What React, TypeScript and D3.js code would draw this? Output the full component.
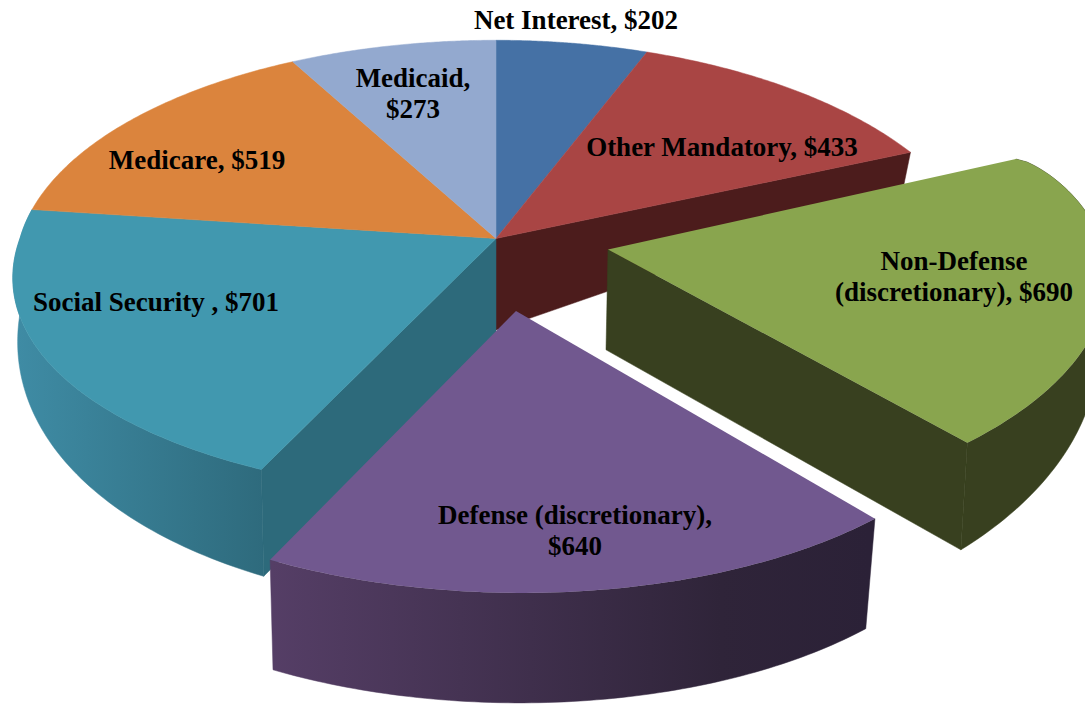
import React from "react";
import * as d3 from "d3";

const categories = ["Net Interest", "Other Mandatory", "Non-Defense (discretionary)", "Defense (discretionary)", "Social Security", "Medicare", "Medicaid"];
const values = [202, 433, 690, 640, 701, 519, 273];
const topColors = ["#4571a5", "#a94544", "#89a54e", "#71588f", "#4198af", "#db843d", "#93a9cf"];

const W = 1085, H = 704;
const cx = 496, cy = 238.5;
const bottomCy = 330;
const Ry = 224, py = 0.13;
const RRight = 482, pRight = 0.156, RLeft = 476, pLeftBack = 0.13, pLeftFront = 0.172;

type Place = { dx: number; dy: number; sx: number; sy: number; shear: number; tilt: number; dAdd: number; flat: number | null; shrink: number; bx: number; bulge: number };
const still: Place = { dx: 0, dy: 0, sx: 1, sy: 1, shear: 0, tilt: 0, dAdd: 0, flat: null, shrink: 0.982, bx: 0, bulge: 0 };
const places: Place[] = [
  still,
  still,
  { ...still, dx: 112, dy: 11, sx: 0.984, sy: 1.05, dAdd: 4, bulge: 22 },
  { ...still, dx: 20, dy: 72.5, sx: 1.005, sy: 1.095, shear: -0.04, tilt: 0.017, flat: 110, shrink: 0.98, bx: -2 },
  { ...still, dAdd: -6, shrink: 0.99 },
  still,
  still,
];

const labels = [
  { lines: ["Net Interest, $202"], x: 576, y: 29 },
  { lines: ["Other Mandatory, $433"], x: 722, y: 156 },
  { lines: ["Non-Defense", "(discretionary), $690"], x: 954, y: 270 },
  { lines: ["Defense (discretionary),", "$640"], x: 575, y: 524 },
  { lines: ["Social Security , $701"], x: 156, y: 311 },
  { lines: ["Medicare, $519"], x: 197, y: 169 },
  { lines: ["Medicaid,", "$273"], x: 413, y: 87 },
];

const pie = d3.pie<number>().sort(null).startAngle(0).endAngle(2 * Math.PI);
const arcs = pie(values);

function topPoint(a: number, p: Place): [number, number] {
  const c = Math.cos(a), s = Math.sin(a);
  const pLeft = c >= 0 ? pLeftBack : pLeftFront;
  const X = s >= 0 ? (RRight * s) / (1 + pRight * c) : (RLeft * s) / (1 + pLeft * c);
  const Y = (-Ry * c) / (1 + py * c);
  let extra = 0;
  if (p.bulge) {
    const t = (a - arcs[2].startAngle) / (arcs[2].endAngle - arcs[2].startAngle);
    extra = p.bulge * Math.sin(Math.PI * Math.sqrt(Math.max(0, Math.min(1, t))));
  }
  const x = X * p.sx + Y * p.sy * p.shear + extra;
  return [cx + p.dx + x, cy + p.dy + Y * p.sy + p.tilt * x];
}
function depth(a: number, p: Place) {
  return p.flat ?? 60 - 58 * Math.cos(a) + p.dAdd;
}
function botPoint(a: number, p: Place): [number, number] {
  const [x, y] = topPoint(a, p);
  const ax = cx + p.dx;
  return [ax + (x - ax) * p.shrink + p.bx, y + depth(a, p)];
}
function apex(p: Place): [number, number] {
  return [cx + p.dx, cy + p.dy];
}
function apexBottom(p: Place, extra: number): [number, number] {
  return [cx + p.dx - (p.dx ? 2 : 0), bottomCy + p.dy * 1.8 + extra];
}
function samples(a0: number, a1: number) {
  return d3.range(0, 81).map((i) => a0 + ((a1 - a0) * i) / 80);
}
const line = d3.line();
const poly = (pts: [number, number][]) => line(pts) + "Z";

function top(i: number) {
  const p = places[i];
  return poly([apex(p), ...samples(arcs[i].startAngle, arcs[i].endAngle).map((a) => topPoint(a, p))]);
}
function wall(i: number, a: number, fill: string, extra = 0) {
  const p = places[i];
  const d = poly([apex(p), topPoint(a, p), botPoint(a, p), apexBottom(p, extra)]);
  return <path d={d} fill={fill} stroke={fill} strokeWidth={0.5} />;
}
function side(i: number, fill: string) {
  const p = places[i];
  const as = samples(arcs[i].startAngle, arcs[i].endAngle);
  const d = poly([...as.map((a) => topPoint(a, p)), ...as.slice().reverse().map((a) => botPoint(a, p))]);
  return <path d={d} fill={fill} stroke={fill} strokeWidth={0.5} />;
}

export default function App() {
  return (
    <svg width={W} height={H} viewBox={`0 0 ${W} ${H}`} style={{ position: "absolute", left: 0, top: 0, background: "#fff" }}>
      <defs>
        <linearGradient id="ssSide" gradientUnits="userSpaceOnUse" x1={12} x2={268} y1={0} y2={0}>
          <stop offset="0" stopColor="#3f8ca5" />
          <stop offset="1" stopColor="#2e6a7c" />
        </linearGradient>
        <linearGradient id="defSide" gradientUnits="userSpaceOnUse" x1={272} x2={870} y1={0} y2={0}>
          <stop offset="0" stopColor="#553e66" />
          <stop offset="0.75" stopColor="#2f2439" />
          <stop offset="1" stopColor="#2b2137" />
        </linearGradient>
      </defs>
      {wall(1, arcs[1].endAngle, "#4c1c1c")}
      {side(4, "url(#ssSide)")}
      {wall(4, arcs[4].startAngle, "#2d6a7b", 15)}
      {[0, 1, 4, 5, 6].map((i) => (
        <path key={categories[i]} d={top(i)} fill={topColors[i]} stroke={topColors[i]} strokeWidth={0.5} />
      ))}
      {side(2, "#38401f")}
      {wall(2, arcs[2].endAngle, "#38401f")}
      <path d={top(2)} fill={topColors[2]} />
      {side(3, "url(#defSide)")}
      <path d={top(3)} fill={topColors[3]} />
      {labels.map((l, i) => (
        <text key={i} textAnchor="middle" fontFamily="'Liberation Serif'" fontWeight="bold" fontSize={27} fill="#000">
          {l.lines.map((t, j) => (
            <tspan key={j} x={l.x} y={l.y + j * 31}>{t}</tspan>
          ))}
        </text>
      ))}
    </svg>
  );
}
